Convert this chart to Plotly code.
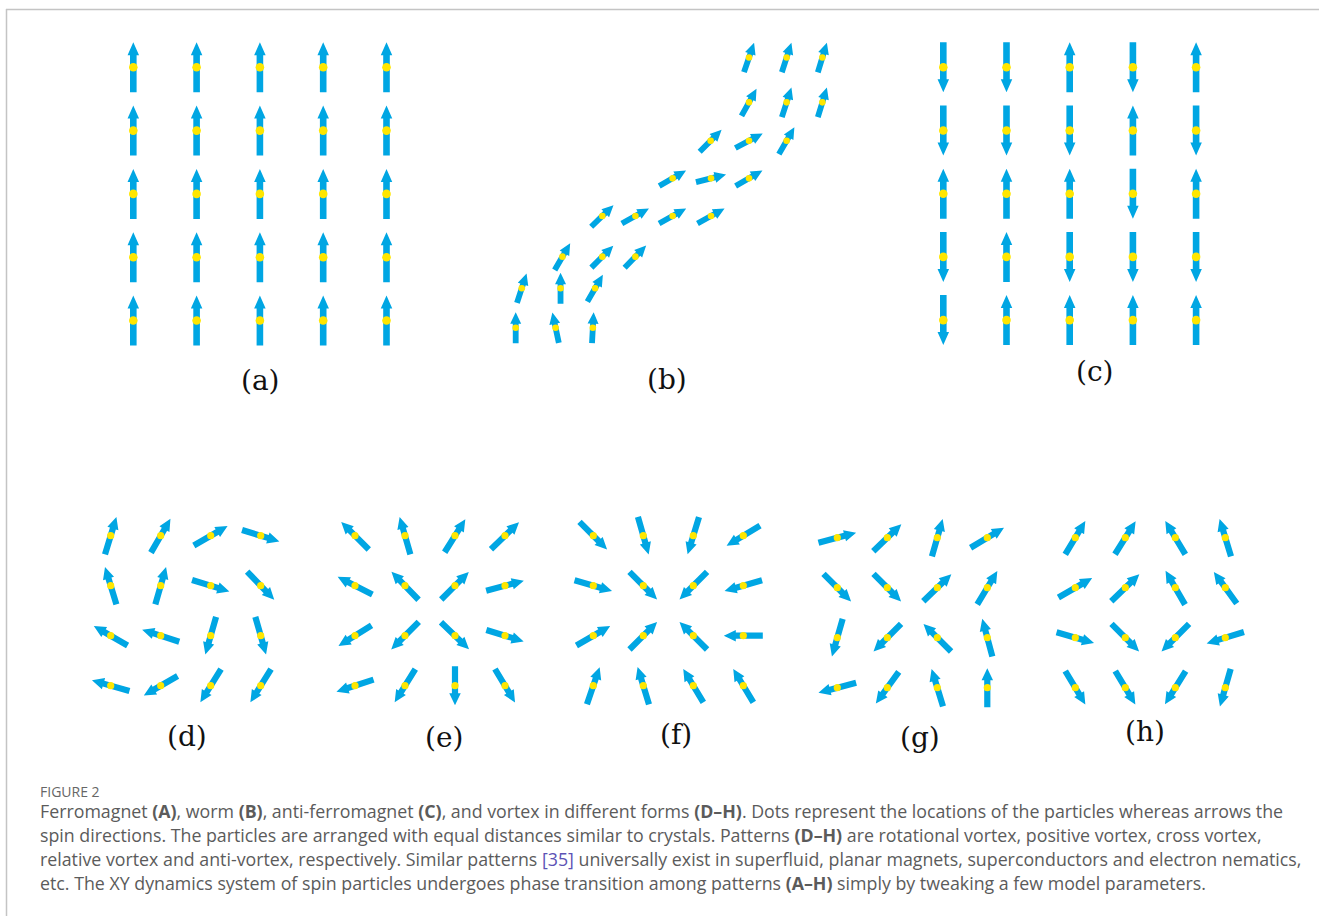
import math
import plotly.graph_objects as go

W, H = 1319, 916
BLUE = "#00A6E3"
YELLOW = "#FFE600"

# ---- spin directions (degrees, counter-clockwise from +x), rows listed top to bottom ----
ferro_angles = [
    [90, 90, 90, 90, 90],
    [90, 90, 90, 90, 90],
    [90, 90, 90, 90, 90],
    [90, 90, 90, 90, 90],
    [90, 90, 90, 90, 90],
]
antiferro_angles = [
    [270, 270, 90, 270, 90],
    [270, 270, 270, 90, 270],
    [90, 90, 90, 270, 90],
    [270, 90, 270, 270, 270],
    [270, 90, 90, 90, 90],
]

# worm: particle positions (lattice units) and spin angles
worm_x = [6.14, 7.13, 8.07,
          6.14, 7.13, 8.07,
          5.13, 6.14, 7.13,
          4.13, 5.14, 6.14,
          2.28, 3.15, 4.13, 5.14,
          1.23, 2.28, 3.15,
          0.16, 1.18, 2.09,
          0.00, 1.05, 2.03]
worm_y = [7.11, 7.11, 7.11,
          5.93, 5.93, 5.93,
          4.92, 4.92, 4.92,
          3.93, 3.93, 3.93,
          2.94, 2.94, 2.94, 2.94,
          1.87, 1.87, 1.87,
          1.04, 1.04, 1.04,
          0.00, 0.00, 0.00]
worm_angles = [71, 72, 73,
               61, 72, 73,
               45, 28, 60,
               30, 14, 30,
               44, 29, 29, 29,
               60, 45, 46,
               72, 90, 60,
               90, 102, 87]

rotational_angles = [
    [73, 60, 30, -17],
    [107, 74, -17, -46],
    [150, 162, 254, 286],
    [164, 210, 238, 238],
]
positive_angles = [
    [135, 106, 58, 44],
    [153, 134, 45, 15],
    [212, 225, 316, 343],
    [198, 238, 270, 301],
]
cross_angles = [
    [315, 286, 253, 211],
    [344, 315, 225, 196],
    [30, 45, 135, 180],
    [71, 107, 121, 121],
]
relative_angles = [
    [15, 44, 74, 31],
    [315, 315, 44, 59],
    [254, 225, 135, 105],
    [195, 234, 107, 90],
]
anti_angles = [
    [59, 58, 121, 107],
    [30, 44, 120, 126],
    [344, 315, 225, 197],
    [301, 301, 238, 254],
]

panel_labels = ["(a)", "(b)", "(c)", "(d)", "(e)", "(f)", "(g)", "(h)"]

# ---- panel layout: lattice origin (px), px per lattice unit, plotting box (px) ----
PANELS = [
    dict(ox=133.3, oy=67.3, s=63.3, box=(95, 425, 28, 358),
         arrow=dict(L=50, sw=6.6, hw=11.5, hl=13, dot=8.6)),
    dict(ox=515.7, oy=327.7, s=38.0, box=(488, 850, 28, 358),
         arrow=dict(L=31, sw=5.8, hw=11, hl=11.5, dot=6.6)),
    dict(ox=943.3, oy=67.3, s=63.2, box=(905, 1235, 28, 358),
         arrow=dict(L=50, sw=6.6, hw=11.5, hl=13, dot=8.6)),
    dict(ox=110.7, oy=535.7, s=50.0, box=(78, 300, 498, 720),
         arrow=dict(L=39, sw=6.2, hw=11.5, hl=12, dot=7.2)),
    dict(ox=355.0, oy=535.7, s=50.0, box=(318, 540, 498, 720),
         arrow=dict(L=39, sw=6.2, hw=11.5, hl=12, dot=7.2)),
    dict(ox=593.3, oy=535.7, s=50.0, box=(558, 780, 498, 720),
         arrow=dict(L=39, sw=6.2, hw=11.5, hl=12, dot=7.2)),
    dict(ox=837.3, oy=537.7, s=50.0, box=(800, 1022, 498, 720),
         arrow=dict(L=39, sw=6.2, hw=11.5, hl=12, dot=7.2)),
    dict(ox=1075.3, oy=537.7, s=50.0, box=(1040, 1262, 498, 720),
         arrow=dict(L=39, sw=6.2, hw=11.5, hl=12, dot=7.2)),
]
LABEL_POS = [(260, 381), (667, 379), (1095, 372), (187, 736),
             (444, 737), (676, 734), (920, 737), (1145, 731)]


def grid_points(angles):
    xs, ys, th = [], [], []
    for r, row in enumerate(angles):
        for c, a in enumerate(row):
            xs.append(c)
            ys.append(-r)
            th.append(a)
    return xs, ys, th


def arrow_paths(xs, ys, th, s, L, sw, hw, hl, dot):
    px, py = [], []
    for x, y, a in zip(xs, ys, th):
        t = math.radians(a)
        ux, uy = math.cos(t), math.sin(t)
        nx, ny = -uy, ux
        # geometry in pixels, converted to lattice units
        tail = -L / 2
        base = L / 2 - hl
        tip = L / 2
        pts = [(tail, -sw / 2), (base, -sw / 2), (base, -hw / 2), (tip, 0),
               (base, hw / 2), (base, sw / 2), (tail, sw / 2), (tail, -sw / 2)]
        for along, across in pts:
            px.append(x + (along * ux + across * nx) / s)
            py.append(y + (along * uy + across * ny) / s)
        px.append(None)
        py.append(None)
    return px, py


data_sets = [
    grid_points(ferro_angles),
    (worm_x, worm_y, worm_angles),
    grid_points(antiferro_angles),
    grid_points(rotational_angles),
    grid_points(positive_angles),
    grid_points(cross_angles),
    grid_points(relative_angles),
    grid_points(anti_angles),
]

fig = go.Figure()
layout_axes = {}
for i, (p, (xs, ys, th)) in enumerate(zip(PANELS, data_sets)):
    n = "" if i == 0 else str(i + 1)
    X0, X1, Y0, Y1 = p["box"]
    s = p["s"]
    ar = p["arrow"]
    ax, ay = arrow_paths(xs, ys, th, s, ar["L"], ar["sw"], ar["hw"], ar["hl"], ar["dot"])
    fig.add_trace(go.Scatter(x=ax, y=ay, mode="lines", fill="toself",
                             fillcolor=BLUE, line=dict(width=0, color=BLUE),
                             hoverinfo="skip", showlegend=False,
                             xaxis="x" + n, yaxis="y" + n))
    fig.add_trace(go.Scatter(x=xs, y=ys, mode="markers",
                             marker=dict(size=ar["dot"], color=YELLOW, line=dict(width=0)),
                             hoverinfo="skip", showlegend=False,
                             xaxis="x" + n, yaxis="y" + n))
    axis_common = dict(visible=False, showgrid=False, zeroline=False, fixedrange=True)
    layout_axes["xaxis" + n] = dict(domain=[X0 / W, X1 / W],
                                    range=[(X0 - p["ox"]) / s, (X1 - p["ox"]) / s],
                                    anchor="y" + n, **axis_common)
    layout_axes["yaxis" + n] = dict(domain=[1 - Y1 / H, 1 - Y0 / H],
                                    range=[(p["oy"] - Y1) / s, (p["oy"] - Y0) / s],
                                    anchor="x" + n, **axis_common)

annotations = []
for lab, (lx, ly) in zip(panel_labels, LABEL_POS):
    annotations.append(dict(text=lab, x=lx / W, y=1 - ly / H, xref="paper", yref="paper",
                            showarrow=False, xanchor="center", yanchor="middle",
                            font=dict(family="DejaVu Serif", size=28, color="#111111")))

CAP_FONT = "Open Sans"
CAP_COLOR = "#5b5b5b"
annotations.append(dict(text="FIGURE 2", x=38 / W, y=1 - 791 / H, xref="paper", yref="paper",
                        showarrow=False, xanchor="left", yanchor="middle",
                        font=dict(family=CAP_FONT, size=14, color="#666666")))
caption_lines = [
    "Ferromagnet <b>(A)</b>, worm <b>(B)</b>, anti-ferromagnet <b>(C)</b>, and vortex in different forms <b>(D–H)</b>. Dots represent the locations of the particles whereas arrows the",
    "spin directions. The particles are arranged with equal distances similar to crystals. Patterns <b>(D–H)</b> are rotational vortex, positive vortex, cross vortex,",
    "relative vortex and anti-vortex, respectively. Similar patterns <span style='color:#5b52b5'>[35]</span> universally exist in superfluid, planar magnets, superconductors and electron nematics,",
    "etc. The XY dynamics system of spin particles undergoes phase transition among patterns <b>(A–H)</b> simply by tweaking a few model parameters.",
]
for k, line in enumerate(caption_lines):
    annotations.append(dict(text=line, x=38 / W, y=1 - (811 + 24 * k) / H,
                            xref="paper", yref="paper", showarrow=False,
                            xanchor="left", yanchor="middle",
                            font=dict(family=CAP_FONT, size=17.8, color=CAP_COLOR)))

shapes = [
    dict(type="line", xref="paper", yref="paper", x0=6 / W, x1=1, y0=1 - 9.5 / H, y1=1 - 9.5 / H,
         line=dict(color="#c4c4c4", width=1.5)),
    dict(type="line", xref="paper", yref="paper", x0=6.5 / W, x1=6.5 / W, y0=0, y1=1 - 9 / H,
         line=dict(color="#c4c4c4", width=1.5)),
]

fig.update_layout(width=W, height=H, margin=dict(l=0, r=0, t=0, b=0),
                  paper_bgcolor="white", plot_bgcolor="rgba(0,0,0,0)",
                  annotations=annotations, shapes=shapes, **layout_axes)
fig.write_html("out.html", config=dict(displayModeBar=False))
